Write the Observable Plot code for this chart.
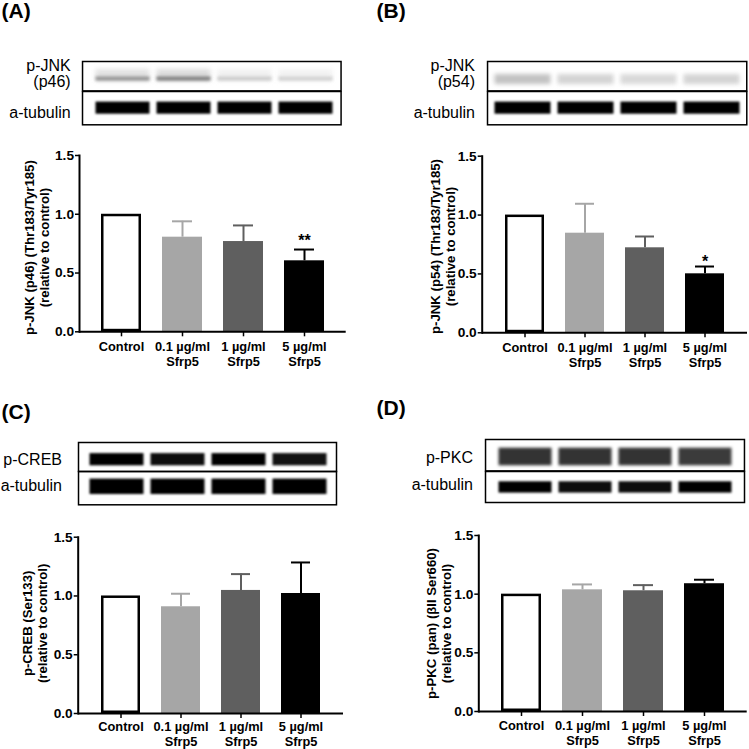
<!DOCTYPE html>
<html><head><meta charset="utf-8">
<script src="https://cdn.jsdelivr.net/npm/d3@7"></script>
<script src="https://cdn.jsdelivr.net/npm/@observablehq/plot@0.6"></script>
<style>
body{margin:0;background:#fff}
#root{position:relative;width:749px;height:749px;overflow:hidden;background:#fff;font-family:"Liberation Sans",Arial,sans-serif;color:#000}
.lbl{position:absolute;font-size:16px;line-height:16px;white-space:nowrap;text-align:right}
.pl{position:absolute;font-size:21px;line-height:21px;font-weight:bold;white-space:nowrap}
.box{position:absolute}
</style></head><body><div id="root"></div>
<script>
// ---- data ----
const groups = ["Control", "0.1 µg/ml\nSfrp5", "1 µg/ml\nSfrp5", "5 µg/ml\nSfrp5"];
const barShades = ["#ffffff", "#a6a6a6", "#5f5f5f", "#000000"];
const yTicks = [0, 0.5, 1.0, 1.5];

const meanA = [1.0, 0.805, 0.768, 0.604];
const errA  = [1.0, 0.94, 0.905, 0.70];
const starsA = ["", "", "", "**"];

const meanB = [1.0, 0.846, 0.722, 0.501];
const errB  = [1.0, 1.096, 0.818, 0.563];
const starsB = ["", "", "", "*"];

const meanC = [1.0, 0.908, 1.047, 1.021];
const errC  = [1.0, 1.019, 1.186, 1.285];
const starsC = ["", "", "", ""];

const meanD = [1.0, 1.037, 1.029, 1.089];
const errD  = [1.0, 1.083, 1.077, 1.123];
const starsD = ["", "", "", ""];

const ylabA = "p-JNK (p46) (Thr183/Tyr185)\n(relative to control)";
const ylabB = "p-JNK (p54) (Thr183/Tyr185)\n(relative to control)";
const ylabC = "p-CREB (Ser133)\n(relative to control)";
const ylabD = "p-PKC (pan) (βII Ser660)\n(relative to control)";

// blot band intensities (0 = none, 1 = black), one per lane
const lanes = ["lane1", "lane2", "lane3", "lane4"];
const bandA = [0.42, 0.5, 0.2, 0.18];   // p-JNK (p46)
const tubA  = [1, 1, 1, 1];
const bandB = [0.24, 0.17, 0.15, 0.17]; // p-JNK (p54)
const tubB  = [1, 1, 1, 1];
const bandC = [1, 0.95, 1, 0.93];       // p-CREB
const tubC  = [1, 1, 1, 1];
const bandD = [0.8, 0.8, 0.8, 0.77];    // p-PKC
const tubD  = [1, 0.95, 0.95, 1];

const root = document.getElementById("root");

function place(el, left, top) {
  const w = document.createElement("div");
  w.className = "box";
  w.style.left = left + "px";
  w.style.top = top + "px";
  w.appendChild(el);
  root.appendChild(w);
  return w;
}

function textAt(cls, txt, x, baseline, asc, alignRight) {
  const d = document.createElement("div");
  d.className = cls;
  d.textContent = txt;
  d.style.top = (baseline - asc) + "px";
  if (alignRight) d.style.right = (749 - x) + "px"; else d.style.left = x + "px";
  root.appendChild(d);
}

function barChart(c) {
  const data = groups.map((g, i) => ({g, mean: c.mean[i], err: c.err[i], shade: barShades[i], star: c.stars[i]}));
  const control = data.slice(0, 1);
  const treated = data.slice(1);
  return Plot.plot({
    width: c.width, height: c.height,
    marginLeft: c.mL, marginRight: c.mR, marginTop: c.mT, marginBottom: c.mB,
    style: {fontFamily: '"Liberation Sans", Arial, sans-serif', fontSize: "13px", fontWeight: "bold", background: "transparent", overflow: "visible", color: "#000"},
    x: {domain: groups, paddingInner: 0.35, paddingOuter: 0.35},
    y: {domain: [0, 1.5]},
    color: {type: "identity"},
    marks: [
      Plot.ruleX(treated, {x: "g", y1: "mean", y2: "err", stroke: "shade", strokeWidth: 2}),
      Plot.tickY(treated, {x: "g", y: "err", stroke: "shade", strokeWidth: 2, inset: 10}),
      Plot.barY(treated, {x: "g", y: "mean", fill: "shade"}),
      Plot.barY(control, {x: "g", y: "mean", fill: "shade", stroke: "#000", strokeWidth: 2.5, inset: 1.25}),
      Plot.text(data, {x: "g", y: "err", text: "star", dy: c.starDy, fontSize: 16, fontWeight: "bold"}),
      Plot.axisY({ticks: yTicks, tickFormat: d3.format(".1f"), tickSize: 4, tickPadding: 1.5, strokeWidth: 1.5, label: null, fontSize: 13.7}),
      Plot.axisX({tickSize: 5, tickPadding: c.tickPad, strokeWidth: 1.5, label: null, lineHeight: 1.12, fontSize: 12.8}),
      Plot.frame({anchor: "left", strokeWidth: 2}),
      Plot.ruleY([0], {strokeWidth: 2}),
      Plot.text([c.ylabel], {frameAnchor: "left", textAnchor: "middle", lineAnchor: "middle", rotate: -90, dx: c.labDx, dy: c.labDy, lineHeight: 1.15, fontSize: 13.2, fontWeight: "bold"})
    ]
  });
}

function blotRow(c) {
  const data = lanes.map((lane, i) => ({lane, v: c.values[i]}));
  const marks = [];
  if (c.haze) {
    marks.push(Plot.cell(data, {x: "lane", y: () => "r", fill: "v", fillOpacity: 0.28,
      insetLeft: c.inset, insetRight: c.inset, insetTop: c.haze, insetBottom: c.iB}));
  }
  marks.push(Plot.cell(data, {x: "lane", y: () => "r", fill: "v",
    insetLeft: c.inset, insetRight: c.inset, insetTop: c.iT, insetBottom: c.iB}));
  marks.push(Plot.frame({stroke: "#000", strokeWidth: 1.5}));
  const svg = Plot.plot({
    width: c.width, height: c.height, margin: 0,
    x: {domain: lanes, paddingInner: 0, paddingOuter: c.po, align: c.align, axis: null},
    y: {domain: ["r"], padding: 0, axis: null},
    color: {type: "linear", domain: [0, 1], range: ["#ffffff", "#000000"]},
    style: {overflow: "visible", background: "transparent"},
    marks
  });
  const cells = svg.querySelectorAll('g[aria-label="cell"]');
  cells.forEach((g, k) => {
    const b = (c.haze && k === 0) ? c.blur * 2 : c.blur;
    g.style.filter = `blur(${b}px)`;
  });
  return svg;
}

// ---- panel letters ----
textAt("pl", "(A)", 1.5, 17.5, 17.8, false);
textAt("pl", "(B)", 376.5, 17.5, 17.8, false);
textAt("pl", "(C)", 1.5, 419, 17.8, false);
textAt("pl", "(D)", 376.5, 415, 17.8, false);

// ---- blot labels ----
const A16 = 13.54;
textAt("lbl", "p-JNK", 70.7, 71.7, A16, true);
textAt("lbl", "(p46)", 70.7, 88, A16, true);
textAt("lbl", "a-tubulin", 70.7, 119, A16, true);
textAt("lbl", "p-JNK", 475, 71.7, A16, true);
textAt("lbl", "(p54)", 475, 88, A16, true);
textAt("lbl", "a-tubulin", 475, 119, A16, true);
textAt("lbl", "p-CREB", 62, 465.7, A16, true);
textAt("lbl", "a-tubulin", 62, 491.7, A16, true);
textAt("lbl", "p-PKC", 473, 463.3, A16, true);
textAt("lbl", "a-tubulin", 473, 490.7, A16, true);

// ---- blots ----
place(blotRow({values: bandA, width: 258.6, height: 29.4, po: 0.097, align: 0.667, inset: 3.5, iT: 15.5, iB: 9.4, haze: 8, blur: 1.4}), 81.7, 61.3);
place(blotRow({values: tubA, width: 258.6, height: 33.3, po: 0.097, align: 0.667, inset: 3.5, iT: 10.6, iB: 10.3, blur: 1.2}), 81.7, 90.7);

place(blotRow({values: bandB, width: 259.3, height: 29.4, po: 0.048, align: 0.56, inset: 3.5, iT: 13, iB: 6, blur: 2}), 486.7, 61.3);
place(blotRow({values: tubB, width: 259.3, height: 33.3, po: 0.048, align: 0.56, inset: 3.5, iT: 10.6, iB: 10.3, blur: 1.2}), 486.7, 90.7);

place(blotRow({values: bandC, width: 258, height: 29, po: 0.098, align: 0.54, inset: 3.5, iT: 11.1, iB: 5.7, blur: 1.2}), 77.7, 441.7);
place(blotRow({values: tubC, width: 258, height: 33.3, po: 0.098, align: 0.54, inset: 3.5, iT: 7.6, iB: 10, blur: 1.2}), 77.7, 470.7);

place(blotRow({values: bandD, width: 259, height: 31.4, po: 0.123, align: 0.55, inset: 3.5, iT: 8.7, iB: 4.7, blur: 1.5}), 485, 439.3);
place(blotRow({values: tubD, width: 259, height: 31, po: 0.123, align: 0.55, inset: 3.5, iT: 10.3, iB: 9.4, blur: 1.2}), 485, 470.7);

// ---- bar charts ----
place(barChart({mean: meanA, err: errA, stars: starsA, ylabel: ylabA, width: 375, height: 240, mL: 79, mR: 29.3, mT: 20, mB: 43.7, starDy: -9, labDx: -43, labDy: 4, tickPad: 4.5}), 0, 135);
place(barChart({mean: meanB, err: errB, stars: starsB, ylabel: ylabB, width: 374, height: 240, mL: 106.7, mR: 2, mT: 20.7, mB: 42.7, starDy: -4.5, labDx: -39.2, labDy: 2, tickPad: 4.5}), 375, 135);
place(barChart({mean: meanC, err: errC, stars: starsC, ylabel: ylabC, width: 375, height: 234, mL: 77.7, mR: 32, mT: 21.7, mB: 36, starDy: -6, labDx: -43.5, labDy: -2, tickPad: 2.5}), 0, 515);
place(barChart({mean: meanD, err: errD, stars: starsD, ylabel: ylabD, width: 374, height: 234, mL: 103.3, mR: 2.3, mT: 20, mB: 38, starDy: -6, labDx: -40.3, labDy: 0, tickPad: 3.5}), 375, 515);
</script>
</body></html>
